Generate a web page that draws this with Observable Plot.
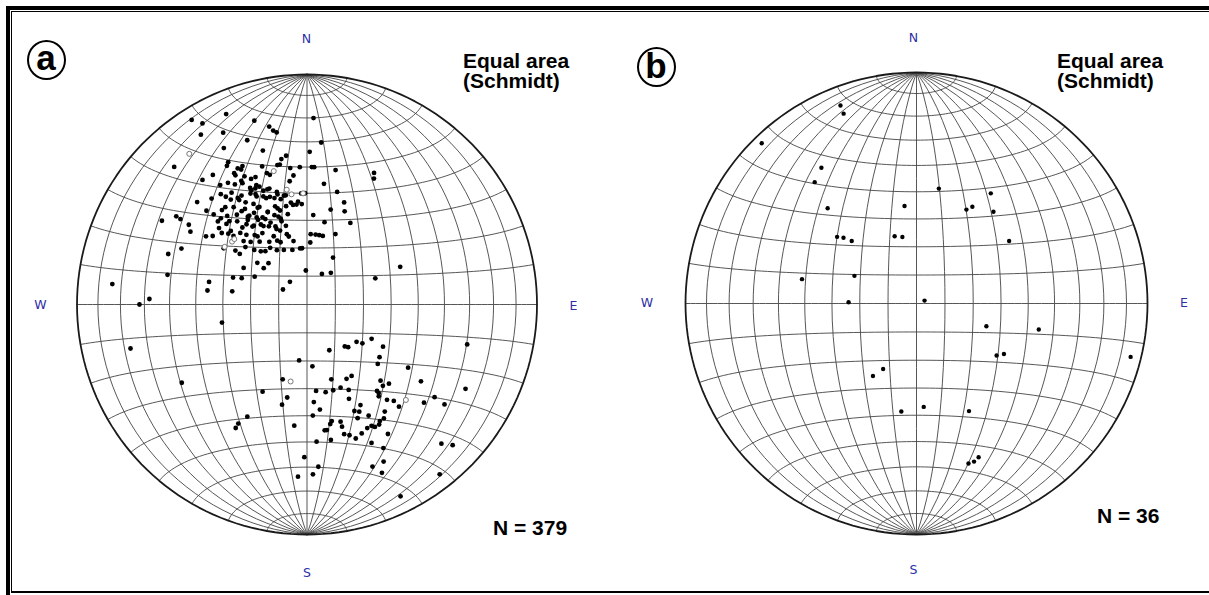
<!DOCTYPE html>
<html><head><meta charset="utf-8">
<script src="https://cdn.jsdelivr.net/npm/d3@7"></script>
<script src="https://cdn.jsdelivr.net/npm/@observablehq/plot@0.6"></script>
<style>
html,body{margin:0;padding:0;background:#fff;width:1209px;height:595px;overflow:hidden;}
#page{position:relative;width:1209px;height:595px;overflow:hidden;background:#fff;font-family:"Liberation Sans",Arial,sans-serif;}
.abs{position:absolute;}
.lbl{position:absolute;font-weight:bold;font-size:21px;line-height:20px;color:#000;white-space:pre;}
.dir{position:absolute;font-family:"DejaVu Sans",sans-serif;font-size:12.5px;line-height:1;color:#2e2ea8;transform:translate(-50%,-50%);}
.circ{position:absolute;box-sizing:border-box;width:39px;height:40px;border:2.5px solid #000;border-radius:50%;}
.letter{position:absolute;width:40px;text-align:center;font-weight:bold;font-size:35px;line-height:1;color:#000;}
</style></head>
<body><div id="page">
<div id="plotA" class="abs" style="left:0;top:0;width:610px;height:595px"></div>
<div id="plotB" class="abs" style="left:610px;top:0;width:599px;height:595px"></div>
<div class="abs" style="left:6px;top:6px;width:1199px;height:600px;border-left:4px solid #000;border-top:4px solid #000;"></div>
<div class="abs" style="left:11px;top:11px;width:1198px;height:579px;border-left:1.5px solid #000;border-top:1.5px solid #000;border-bottom:2px solid #000;"></div>
<div class="circ" style="left:26.5px;top:40px"></div><div class="letter" style="left:26px;top:40.4px">a</div>
<div class="circ" style="left:636.5px;top:46.5px"></div><div class="letter" style="left:636px;top:48.4px">b</div>
<div class="lbl" style="left:463px;top:51px">Equal area
(Schmidt)</div>
<div class="lbl" style="left:1057px;top:51px">Equal area
(Schmidt)</div>
<div class="lbl" style="left:493px;top:518px">N = 379</div>
<div class="lbl" style="left:1097px;top:505.5px">N = 36</div>
<div class="dir" style="left:306.5px;top:38.5px">N</div>
<div class="dir" style="left:307px;top:572.5px">S</div>
<div class="dir" style="left:40.5px;top:305px">W</div>
<div class="dir" style="left:573.5px;top:306px">E</div>
<div class="dir" style="left:913.5px;top:37.5px">N</div>
<div class="dir" style="left:913.5px;top:570px">S</div>
<div class="dir" style="left:647px;top:302.5px">W</div>
<div class="dir" style="left:1184px;top:303px">E</div>
</div>
<script>
// Poles as [trend, plunge] in degrees (lower hemisphere), read from the nets
const polesA = [
[328,6],[330,10],[337,11],[344,18],[348,22],[349,24],[350,25],[328,14],[334,18],[340,25],
[332,24],[344,31],[316,18],[331,30],[350,36],[352,35],[348,38],[353,40],[357,40],[1,34],
[2,20],[5,30],[3,40],[2,40],[12,40],[27,36],[28,38],[8,46],[15,48],[357,54],
[20,51],[22,54],[14,55],[4,58],[12,60],[28,57],[3,65],[7,65],[10,65],[13,65],
[22,63],[3,68],[355,70],[29,71],[358,78],[26,78],[37,76],[68,54],[69,64],[276,16],
[270,28],[272,32],[290,36],[282,38],[283,54],[278,54],[280,63],[302,80],[323,80],[294,40],
[304,32],[304,34],[300,28],[304,38],[302,40],[313,35],[330,31],[333,34],[334,35],[331,36],
[334,38],[338,40],[336,40],[342,37],[343,40],[349,38],[352,45],[354,43],[344,41],[320,30],
[324,31],[324,36],[327,37],[329,39],[332,39],[332,40],[334,43],[336,44],[338,44],[339,46],
[342,46],[345,48],[348,50],[357,50],[359,50],[318,38],[322,39],[323,41],[326,41],[327,44],
[329,44],[333,45],[335,47],[339,49],[343,50],[346,51],[348,54],[351,53],[354,54],[313,40],
[314,43],[318,44],[318,47],[323,46],[322,49],[327,49],[326,52],[330,52],[333,51],[333,55],
[337,54],[340,56],[343,54],[343,58],[348,57],[313,46],[311,48],[315,49],[314,52],[320,51],
[320,54],[325,53],[326,56],[330,55],[331,58],[336,58],[338,61],[343,59],[344,64],[304,46],
[306,48],[310,50],[312,52],[313,54],[317,55],[315,58],[318,60],[324,60],[328,60],[329,64],
[334,63],[337,66],[345,65],[348,67],[304,54],[307,58],[307,60],[313,60],[316,63],[319,65],
[322,66],[327,66],[331,68],[337,69],[345,70],[353,70],[310,67],[310,70],[317,70],[300,64],
[290,62],[292,65],[298,69],[331,35],[335,34],[337,43],[334,44],[335,46],[338,48],[341,46],
[341,49],[345,49],[349,50],[352,54],[355,53],[344,55],[342,53],[337,54],[334,51],[332,49],
[329,47],[327,45],[324,43],[320,44],[325,49],[327,52],[330,54],[334,56],[342,57],[338,60],
[334,59],[330,57],[325,56],[323,54],[317,49],[315,46],[323,59],[319,57],[340,62],[345,61],
[323,62],[335,65],
[258,59],[256,22],[188,70],[238,36],[198,62],[207,55],[192,56],[194,53],[208,44],[210,40],
[210,38],[186,46],[181,34],[183,26],[104,29],[118,64],[127,68],[125,66],[138,70],[136,69],
[119,59],[154,72],[126,58],[175,68],[130,57],[122,47],[162,62],[152,60],[148,60],[136,52],
[134,49],[137,50],[124,40],[118,23],[174,59],[168,58],[163,58],[158,58],[154,56],[141,50],
[141,49],[142,48],[156,53],[152,49],[140,45],[138,43],[138,40],[130,34],[126,32],[126,27],
[176,55],[173,52],[156,48],[154,47],[156,45],[151,44],[144,42],[146,40],[177,50],[168,47],
[169,46],[171,44],[164,46],[164,44],[152,40],[151,39],[154,40],[149,39],[148,40],[172,44],
[164,41],[162,40],[160,38],[157,39],[148,34],[170,40],[176,40],[155,34],[152,30],[136,17],
[134,13],[154,25],[158,25],[156,21],[176,30],[178,27],[142,7],[154,8]
];
const openA = [[322,18],[358,50],[346,40],[350,48],[352,50],[310,55],[312,55],[305,54],[192,62],[134,40]];
const polesB = [
[339,9],[339,13],[316,4],[325,29],[320,32],[11,48],[34,42],[353,55],[317,43],[28,52],
[30,50],[40,47],[310,53],[312,55],[314,58],[342,65],[348,66],[56,50],[282,48],[294,66],
[271,66],[70,87],[108,64],[102,45],[123,56],[120,54],[104,5],[211,60],[207,64],[188,51],
[176,53],[154,47],[162,28],[160,28],[158,29]
];

const rad = Math.PI / 180;
// trend/plunge -> longitude/latitude on the equatorial-aspect (Schmidt) net
function toLonLat([t, p]) {
  const vc = Math.sin(p * rad), ve = Math.cos(p * rad) * Math.sin(t * rad), vn = Math.cos(p * rad) * Math.cos(t * rad);
  return {lon: Math.atan2(ve, vc) / rad, lat: Math.asin(vn) / rad};
}
const net = d3.geoGraticule().extent([[-180, -90], [180, 90]]).step([10, 10])();

function stereonet(solid, open, R, cx, cy, w, r) {
  const proj = d3.geoAzimuthalEqualArea().rotate([0, 0]).clipAngle(90)
    .scale(R / Math.SQRT2).translate([cx, cy]).precision(0.1);
  return Plot.plot({
    width: w, height: 595, margin: 0,
    style: {background: "transparent"},
    projection: proj,
    marks: [
      Plot.geo(net, {fill: "none", stroke: "#444", strokeWidth: 0.9}),
      Plot.sphere({fill: "none", stroke: "#1a1a1a", strokeWidth: 1.8}),
      Plot.dot(solid.map(toLonLat), {x: "lon", y: "lat", r, fill: "#000", stroke: "none"}),
      Plot.dot(open.map(toLonLat), {x: "lon", y: "lat", r: 2.5, fill: "#fff", stroke: "#777", strokeWidth: 1})
    ]
  });
}
document.getElementById("plotA").appendChild(stereonet(polesA, openA, 230, 306.5, 304, 610, 2.4));
document.getElementById("plotB").appendChild(stereonet(polesB, [], 231, 306, 303, 599, 2.2));
</script>
</body></html>
